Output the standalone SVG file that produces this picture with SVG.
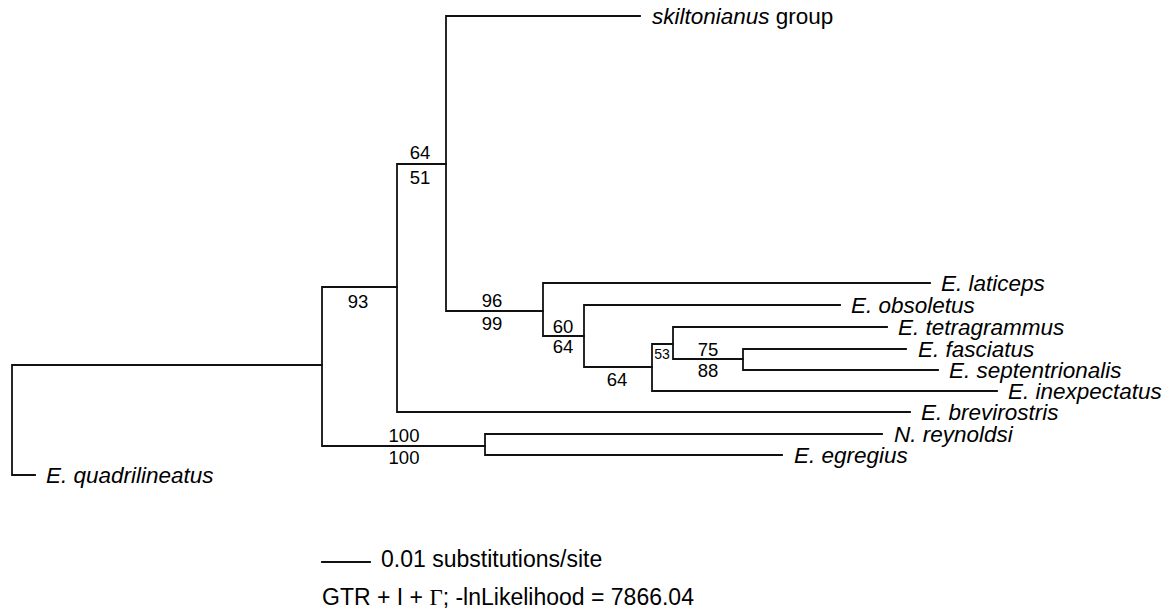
<svg xmlns="http://www.w3.org/2000/svg" width="1174" height="615" viewBox="0 0 1174 615">
<style>
.br{fill:none;stroke:#111;stroke-width:1.8;stroke-linecap:square}
.lab{font-family:"Liberation Sans",Arial,sans-serif;font-size:22.5px;font-style:italic;fill:#000}
.num{font-family:"Liberation Sans",Arial,sans-serif;font-size:18.5px;fill:#000;text-anchor:middle}
.sm{font-family:"Liberation Sans",Arial,sans-serif;font-size:14px;fill:#000;text-anchor:middle}
.txt{font-family:"Liberation Sans",Arial,sans-serif;font-size:23px;fill:#000}
</style>
<rect width="1174" height="615" fill="#fff"/>
<g id="connectors">
<path class="br" d="M12,365V475H35M12,365H322"/>
<path class="br" d="M322,287V446M322,287H397M322,446H485"/>
<path class="br" d="M397,164V412H910M397,164H446"/>
<path class="br" d="M446,16V311M446,16H640M446,311H543"/>
<path class="br" d="M543,283V336M543,283H930M543,336H584"/>
<path class="br" d="M584,305V367M584,305H840M584,367H652"/>
<path class="br" d="M652,344V391H997M652,344H673"/>
<path class="br" d="M673,327V359M673,327H887M673,359H743"/>
<path class="br" d="M743,349V370M743,349H906M743,370H938"/>
<path class="br" d="M485,434V455M485,434H882M485,455H782"/>
<path class="br" d="M322,562H370"/>
</g>
<g id="skiltonianus"><text x="652" y="24" class="lab">skiltonianus<tspan font-style="normal"> group</tspan></text></g>
<g id="laticeps"><text x="941" y="291" class="lab">E. laticeps</text></g>
<g id="obsoletus"><text x="851" y="313" class="lab">E. obsoletus</text></g>
<g id="tetragrammus"><text x="898" y="335" class="lab">E. tetragrammus</text></g>
<g id="fasciatus"><text x="918" y="357" class="lab">E. fasciatus</text></g>
<g id="septentrionalis"><text x="949" y="378" class="lab">E. septentrionalis</text></g>
<g id="inexpectatus"><text x="1008" y="399" class="lab">E. inexpectatus</text></g>
<g id="brevirostris"><text x="921" y="420" class="lab">E. brevirostris</text></g>
<g id="reynoldsi"><text x="894" y="442" class="lab">N. reynoldsi</text></g>
<g id="egregius"><text x="794" y="463" class="lab">E. egregius</text></g>
<g id="quadrilineatus"><text x="46" y="483" class="lab">E. quadrilineatus</text></g>
<g id="support">
<text x="420" y="159" class="num">64</text>
<text x="420" y="184" class="num">51</text>
<text x="358" y="308" class="num">93</text>
<text x="492" y="307" class="num">96</text>
<text x="492" y="330" class="num">99</text>
<text x="563" y="333" class="num">60</text>
<text x="563" y="353" class="num">64</text>
<text x="617" y="386" class="num">64</text>
<text x="662" y="359" class="sm">53</text>
<text x="708" y="356" class="num">75</text>
<text x="708" y="377" class="num">88</text>
<text x="404" y="442" class="num">100</text>
<text x="404" y="464" class="num">100</text>
</g>
<g id="scale"><text x="381" y="567" class="txt">0.01 substitutions/site</text></g>
<g id="model"><text x="322" y="605" class="txt">GTR + I + <tspan font-family="'Liberation Serif',serif">Γ</tspan>; -lnLikelihood = 7866.04</text></g>
</svg>
